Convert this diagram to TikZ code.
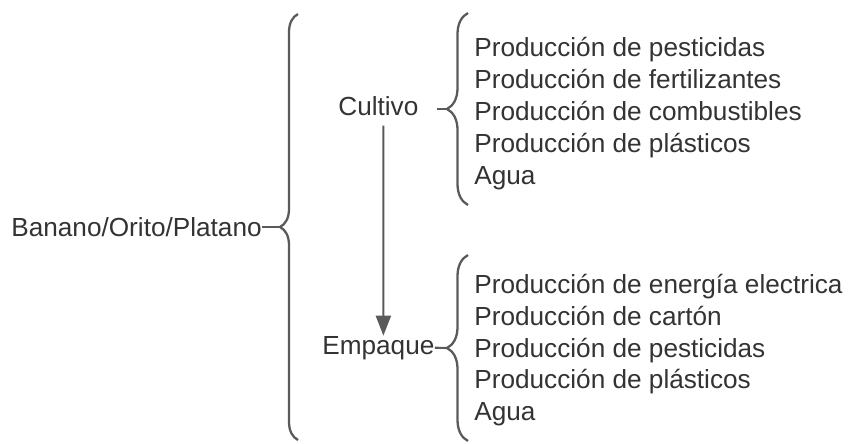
\documentclass[tikz,border=0pt]{standalone}
\usepackage{fontspec}
\setmainfont{Liberation Sans}
\usetikzlibrary{arrows.meta}
\usetikzlibrary{decorations.pathreplacing}
\definecolor{txtgray}{HTML}{333333}
\definecolor{linegray}{HTML}{5A5A5A}
\tikzset{
    itemtext/.style={anchor=base west, inner sep=0pt, text=txtgray,
        font=\fontsize{14.9}{17}\selectfont},
    curly/.style={draw=linegray, line width=1.3pt, decorate,
        decoration={brace, amplitude=0.42cm}},
    link/.style={draw=linegray, line width=1.2pt},
}

\begin{document}
\begin{tikzpicture}[x=0.02cm, y=-0.02cm]
    \useasboundingbox (0,0) rectangle (854,443);

    \coordinate (rootTop) at (298,14);
    \coordinate (rootBot) at (298,440);
    \coordinate (rootTip) at (280,227);
    \coordinate (cultivoTop) at (468,13);
    \coordinate (cultivoBot) at (468,205);
    \coordinate (cultivoTip) at (447,109);
    \coordinate (cultivoGap) at (437,109);
    \coordinate (empaqueTop) at (468,255);
    \coordinate (empaqueBot) at (468,441);
    \coordinate (empaqueTip) at (447,348);

    % Root
    \node[itemtext] (root) at (11,236) {Banano/Orito/Platano};
    \draw[curly, decoration={brace, amplitude=0.36cm}] (rootBot) -- (rootTop);
    \draw[link] (root.east) -- (root.east -| rootTip);

    % Stages
    \node[itemtext] (cultivo) at (338,115) {Cultivo};
    \node[itemtext] (empaque) at (322,354) {Empaque};
    \draw[link, -{Triangle[length=0.4cm, width=0.3cm]}]
        ([xshift=0.1cm, yshift=-0.2cm]cultivo.south) -- ([xshift=0.1cm]empaque.north);

    % Cultivo
    \draw[curly] (cultivoBot) -- (cultivoTop);
    \draw[link] (cultivoGap) -- (cultivoTip);
    \node[itemtext] (c1) at (474,56) {Producción de pesticidas};
    \node[itemtext] (c2) at (474,88) {Producción de fertilizantes};
    \node[itemtext] (c3) at (474,120) {Producción de combustibles};
    \node[itemtext] (c4) at (474,152) {Producción de plásticos};
    \node[itemtext] (c5) at (474,184) {Agua};

    % Empaque
    \draw[curly] (empaqueBot) -- (empaqueTop);
    \draw[link] (empaque.east) -- (empaqueTip);
    \node[itemtext] (e1) at (474,293) {Producción de energía electrica};
    \node[itemtext] (e2) at (474,325) {Producción de cartón};
    \node[itemtext] (e3) at (474,357) {Producción de pesticidas};
    \node[itemtext] (e4) at (474,388) {Producción de plásticos};
    \node[itemtext] (e5) at (474,420) {Agua};
\end{tikzpicture}
\end{document}
